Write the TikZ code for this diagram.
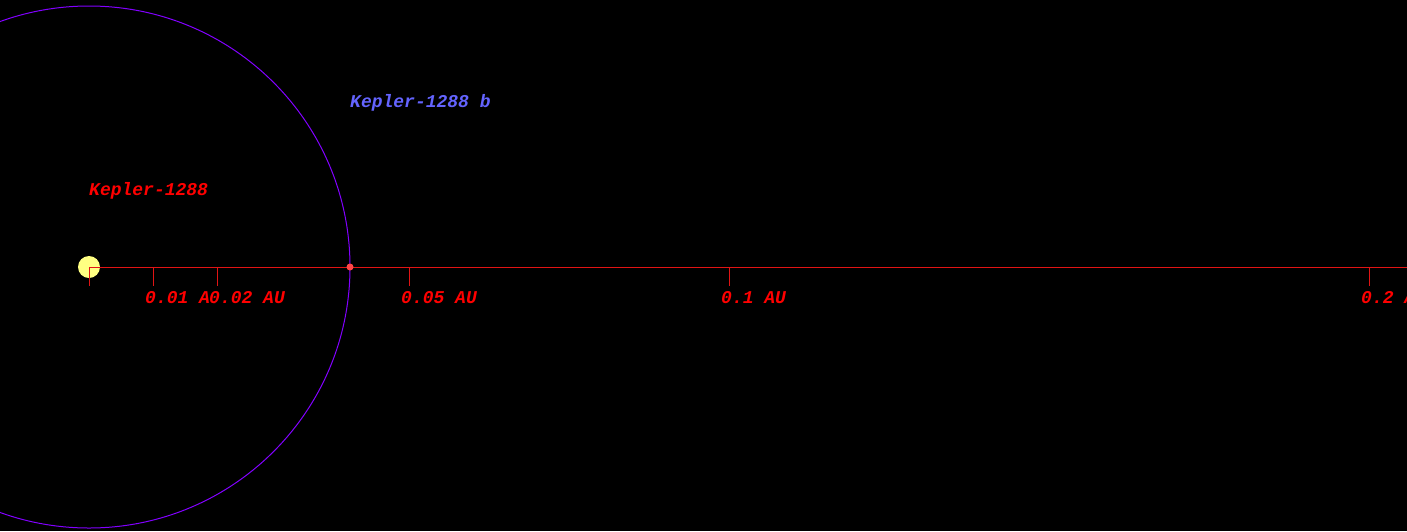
\documentclass[tikz,border=0pt]{standalone}
\usepackage{fontspec}
\setmonofont{Liberation Mono}
\definecolor{axisred}{RGB}{225,20,20}
\definecolor{lblred}{RGB}{255,0,0}
\definecolor{lblblue}{RGB}{100,100,255}
\definecolor{orbitpurple}{RGB}{130,0,255}
\definecolor{staryellow}{RGB}{255,255,130}
\definecolor{planetred}{RGB}{255,70,70}
\tikzset{
  lbl/.style={anchor=base west, inner sep=0pt, font=\fontsize{18}{20}\selectfont\ttfamily\bfseries\itshape},
  axisline/.style={draw=axisred, line width=1pt},
  orbitline/.style={draw=orbitpurple, line width=1pt},
}
\begin{document}
\begin{tikzpicture}[x=1pt,y=-1pt]
\useasboundingbox[fill=black] (0,0) rectangle (1407,531);
% orbit
\draw[orbitline] (89,267) circle (261);
% star
\node[circle, fill=staryellow, minimum size=22pt, inner sep=0pt] (star) at (89,267) {};
\coordinate (axisend) at (1407,267);
\draw[axisline] (star.center) -- (axisend);
% ticks
\foreach \x/\n in {89/t0,153/t1,217/t2,409/t5,729/t10,1369/t20}{
  \coordinate (\n) at (\x,267);
  \coordinate (\n b) at (\x,286);
  \draw[axisline] (\n) -- (\n b);
}
% planet
\node[circle, fill=planetred, minimum size=7pt, inner sep=0pt] (planet) at (350,267) {};
% labels
\node[lbl, text=lblred] (l1) at (145,303) {0.01 AU};
\node[lbl, text=lblred, fill=black] (l2) at (209,303) {0.02 AU};
\node[lbl, text=lblred] (l5) at (401,303) {0.05 AU};
\node[lbl, text=lblred] (l10) at (721,303) {0.1 AU};
\node[lbl, text=lblred] (l20) at (1361,303) {0.2 AU};
\node[lbl, text=lblred] (starlbl) at (89,195) {Kepler-1288};
\node[lbl, text=lblblue] (planetlbl) at (350,107) {Kepler-1288 b};
\end{tikzpicture}
\end{document}
